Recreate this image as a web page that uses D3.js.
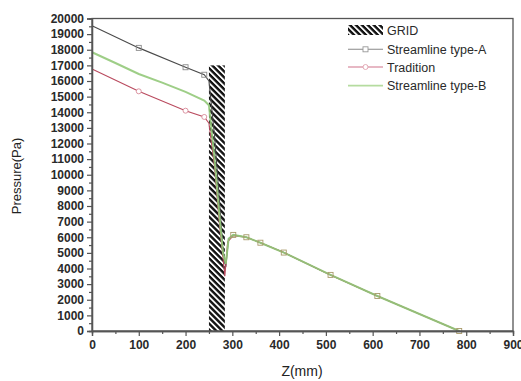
<!DOCTYPE html>
<html><head><meta charset="utf-8">
<script src="https://cdn.jsdelivr.net/npm/d3@7"></script>
<style>body{margin:0;background:#fff}svg{display:block;font-family:"Liberation Sans",Arial,sans-serif}</style>
</head><body>
<svg id="c" width="521" height="381"></svg>
<script>
// ---- data ----
const xTicks = [0,100,200,300,400,500,600,700,800,900];
const yTicks = [0,1000,2000,3000,4000,5000,6000,7000,8000,9000,10000,11000,12000,13000,14000,15000,16000,17000,18000,19000,20000];
const gridZ = [250, 284];
const gridTop = 17000;

const zA = [0,100,200,240,250,262,272,280,286,292,302,330,360,410,510,610,785];
const pA = [19530,18120,16880,16400,16000,12500,8500,5200,4100,5900,6150,6000,5650,5020,3590,2240,0];
const markA = [100,200,240,302,330,360,410,510,610,785];

const zT = [0,100,200,240,250,262,272,280,284,290,302,330,360,410,510,610,785];
const pT = [16770,15340,14100,13700,13300,10500,7000,4700,3500,5700,6100,6000,5650,5020,3590,2240,0];
const markT = [100,200,240];

const zB = [0,50,100,150,200,240,250,262,272,280,286,292,302,330,360,410,510,610,785];
const pB = [17840,17150,16450,15900,15300,14750,14450,11000,7500,5000,4300,5900,6150,6000,5650,5020,3590,2240,0];

const legendNames = ["GRID","Streamline type-A","Tradition","Streamline type-B"];

// ---- chart ----
const svg = d3.select("#c");
const L=92,R=513,T=18.5,B=331;
const x = d3.scaleLinear().domain([0,900]).range([L,R]);
const y = d3.scaleLinear().domain([0,20000]).range([B,T]);

const defs = svg.append("defs");
const pat = defs.append("pattern").attr("id","hatch").attr("patternUnits","userSpaceOnUse")
  .attr("width",4.2).attr("height",4.2).attr("patternTransform","rotate(-45)");
pat.append("rect").attr("width",4.2).attr("height",4.2).attr("fill","#111");
pat.append("rect").attr("x",0).attr("width",1.8).attr("height",4.2).attr("fill","#fff");

// grid bar
svg.append("rect").attr("x",x(gridZ[0])).attr("y",y(gridTop))
  .attr("width",x(gridZ[1])-x(gridZ[0])).attr("height",y(0)-y(gridTop))
  .attr("fill","url(#hatch)");

const line = d3.line().x(d=>x(d[0])).y(d=>y(d[1]));
const zip = (a,b)=>a.map((v,i)=>[v,b[i]]);

const dA = zip(zA,pA), dT = zip(zT,pT), dB = zip(zB,pB);
const cA="#4a4a4a", cT="#b94a5e", cB="#93c97a";

svg.append("path").datum(dA).attr("d",line).attr("fill","none").attr("stroke",cA).attr("stroke-width",1.1);
svg.append("path").datum(dT).attr("d",line).attr("fill","none").attr("stroke",cT).attr("stroke-width",1.1);
svg.append("path").datum(dB).attr("d",line).attr("fill","none").attr("stroke",cB).attr("stroke-width",2).attr("stroke-opacity",0.9);

svg.append("g").selectAll("rect").data(dA.filter(d=>markA.includes(d[0]))).join("rect")
  .attr("x",d=>x(d[0])-2.5).attr("y",d=>y(d[1])-2.5).attr("width",5).attr("height",5)
  .attr("fill","none").attr("stroke",d=>d[0]>300?"#a89a6a":"#8a8a8a").attr("stroke-width",0.9);
svg.append("g").selectAll("circle").data(dT.filter(d=>markT.includes(d[0]))).join("circle")
  .attr("cx",d=>x(d[0])).attr("cy",d=>y(d[1])).attr("r",2.5)
  .attr("fill","#fff").attr("stroke","#d88a98").attr("stroke-width",0.9);

// frame
svg.append("rect").attr("x",L).attr("y",T).attr("width",R-L).attr("height",B-T)
  .attr("fill","none").attr("stroke","#555").attr("stroke-width",1.3);

// axes
const gx = svg.append("g").attr("transform",`translate(0,${B})`)
  .call(d3.axisBottom(x).tickValues(xTicks).tickSize(5).tickPadding(4).tickFormat(d3.format("d")));
const gxm = svg.append("g").attr("transform",`translate(0,${B})`)
  .call(d3.axisBottom(x).tickValues(d3.range(50,900,100)).tickSize(3).tickFormat(""));
const gy = svg.append("g").attr("transform",`translate(${L},0)`)
  .call(d3.axisLeft(y).tickValues(yTicks).tickSize(5).tickPadding(3).tickFormat(d3.format("d")));
const gym = svg.append("g").attr("transform",`translate(${L},0)`)
  .call(d3.axisLeft(y).tickValues(d3.range(500,20000,1000)).tickSize(3).tickFormat(""));
[gx,gxm,gy,gym].forEach(g=>{
  g.select(".domain").attr("stroke","#555").attr("stroke-width",1.3);
  g.selectAll(".tick line").attr("stroke","#555").attr("stroke-width",1.2);
  g.selectAll("text").attr("fill","#2a2a2a").style("font-size","12px").style("font-weight","bold")
    .style("font-family","'Liberation Sans',Arial,sans-serif");
});

// axis titles
svg.append("text").attr("x",302).attr("y",376).attr("text-anchor","middle")
  .style("font-size","14px").attr("fill","#222").text("Z(mm)");
svg.append("text").attr("transform","translate(21,176) rotate(-90)").attr("text-anchor","middle")
  .style("font-size","13px").attr("fill","#222").text("Pressure(Pa)");

// legend
const lg = svg.append("g");
const sx0=348, sx1=383, tx=387, rows=[30,49.3,67,85.7];
lg.append("rect").attr("x",sx0).attr("y",rows[0]-5).attr("width",sx1-sx0).attr("height",10).attr("fill","url(#hatch)");
lg.append("line").attr("x1",sx0).attr("x2",sx1).attr("y1",rows[1]).attr("y2",rows[1]).attr("stroke","#888").attr("stroke-width",1.1);
lg.append("rect").attr("x",(sx0+sx1)/2-2.5).attr("y",rows[1]-2.5).attr("width",5).attr("height",5).attr("fill","#fff").attr("stroke","#999").attr("stroke-width",0.9);
lg.append("line").attr("x1",sx0).attr("x2",sx1).attr("y1",rows[2]).attr("y2",rows[2]).attr("stroke","#d0728a").attr("stroke-width",1.1);
lg.append("circle").attr("cx",(sx0+sx1)/2).attr("cy",rows[2]).attr("r",2.5).attr("fill","#fff").attr("stroke","#e0a0ae").attr("stroke-width",0.9);
lg.append("line").attr("x1",sx0).attr("x2",sx1).attr("y1",rows[3]).attr("y2",rows[3]).attr("stroke","#b5dc9f").attr("stroke-width",1.8);
lg.selectAll("text.l").data(legendNames).join("text").attr("class","l")
  .attr("x",tx).attr("y",(d,i)=>rows[i]+4.5).style("font-size","12.5px").attr("fill","#2a2a2a").text(d=>d);
</script>
</body></html>
